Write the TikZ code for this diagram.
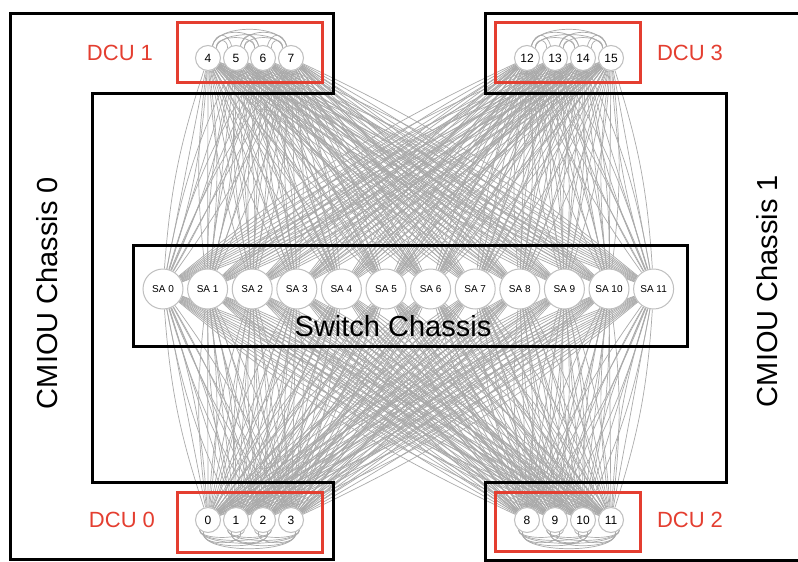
\documentclass[tikz,border=0pt]{standalone}
\usepackage{fontspec}
\setmainfont{Liberation Sans}
\usetikzlibrary{backgrounds}

\definecolor{dcured}{RGB}{228,62,48}
\definecolor{linkgray}{RGB}{170,170,170}

\tikzset{
  chassis/.style={draw=black, line width=3pt},
  dcubox/.style={draw=dcured, line width=3pt},
  dcunode/.style={circle, draw=black!25, fill=white, line width=1pt,
    minimum size=25pt, inner sep=0pt, font=\fontsize{12}{12}\selectfont},
  sanode/.style={circle, draw=black!25, fill=white, line width=1pt,
    minimum size=40pt, inner sep=0pt, font=\fontsize{10}{10}\selectfont},
  link/.style={draw=linkgray, line width=0.7pt},
  dculabel/.style={text=dcured, font=\fontsize{22}{22}\selectfont},
  biglabel/.style={font=\fontsize{29}{29}\selectfont}
}

\begin{document}
\begin{tikzpicture}[x=1pt,y=-1pt]
      \useasboundingbox (0,0) rectangle (798,562);
      \clip (0,0) rectangle (798,562);
      % DCU nodes
      \foreach \n/\x in {0/208,1/236,2/263,3/291}
        \node[dcunode] (d\n) at (\x,520) {\n};
      \foreach \n/\x in {4/208,5/236,6/263,7/291}
        \node[dcunode] (d\n) at (\x,58) {\n};
      \foreach \n/\x in {8/527,9/555,10/583,11/611}
        \node[dcunode] (d\n) at (\x,520) {\n};
      \foreach \n/\x in {12/527,13/555,14/583,15/611}
        \node[dcunode] (d\n) at (\x,58) {\n};
      % switch ASICs
      \foreach \i in {0,...,11}
        \node[sanode] (sa\i) at ({163+44.6*\i},289) {SA \i};
      % links
      \begin{scope}[on background layer]
        \fill[white] (0,0) rectangle (798,562);
        \foreach \d in {0,...,15}
          \foreach \s in {0,...,11}
            \foreach \b in {-7,0,7}
              \draw[link] (d\d) to[bend left=\b] (sa\s);
        \foreach \o/\h in {4/-1,12/-1,0/1,8/1}
          \foreach \a/\b in {0/1,1/2,2/3,0/2,1/3,0/3}
            \foreach \k in {0,4} {
              \pgfmathtruncatemacro\p{\o+\a}
              \pgfmathtruncatemacro\q{\o+\b}
              \pgfmathsetmacro\up{\h*(6+\k+4*(\b-\a))}
              \pgfmathsetmacro\ang{90*(-\h)}
              \draw[link] (d\p.\ang-40+5*\k) .. controls +(-\h*\k,\up) and +(\h*\k,\up) .. (d\q.\ang+40-5*\k);
            }
      \end{scope}
      % chassis
      \draw[chassis] (10,13) -- (333,13) -- (333,93) -- (92,93) -- (92,482)
        -- (333,482) -- (333,559) -- (10,559) -- cycle;
      \draw[chassis] (810,13) -- (485,13) -- (485,93) -- (726,93) -- (726,482)
        -- (485,482) -- (485,560) -- (810,560);
      \draw[chassis] (133,245) rectangle (687,346);
      \draw[dcubox] (177,22) rectangle (322,82);
      \draw[dcubox] (495,22) rectangle (640,82);
      \draw[dcubox] (177,492) rectangle (322,552);
      \draw[dcubox] (495,492) rectangle (640,551);
      % labels
      \node[dculabel] (dcu1) at (120,53) {DCU 1};
      \node[dculabel] (dcu3) at (690,53) {DCU 3};
      \node[dculabel] (dcu0) at (122,520) {DCU 0};
      \node[dculabel] (dcu2) at (690,520) {DCU 2};
      \node[biglabel, rotate=90] (cmiou0) at (47,293) {CMIOU Chassis 0};
      \node[biglabel, rotate=90] (cmiou1) at (767,291) {CMIOU Chassis 1};
      \node[biglabel] (switch) at (393,326) {Switch Chassis};
    \end{tikzpicture}
\end{document}
